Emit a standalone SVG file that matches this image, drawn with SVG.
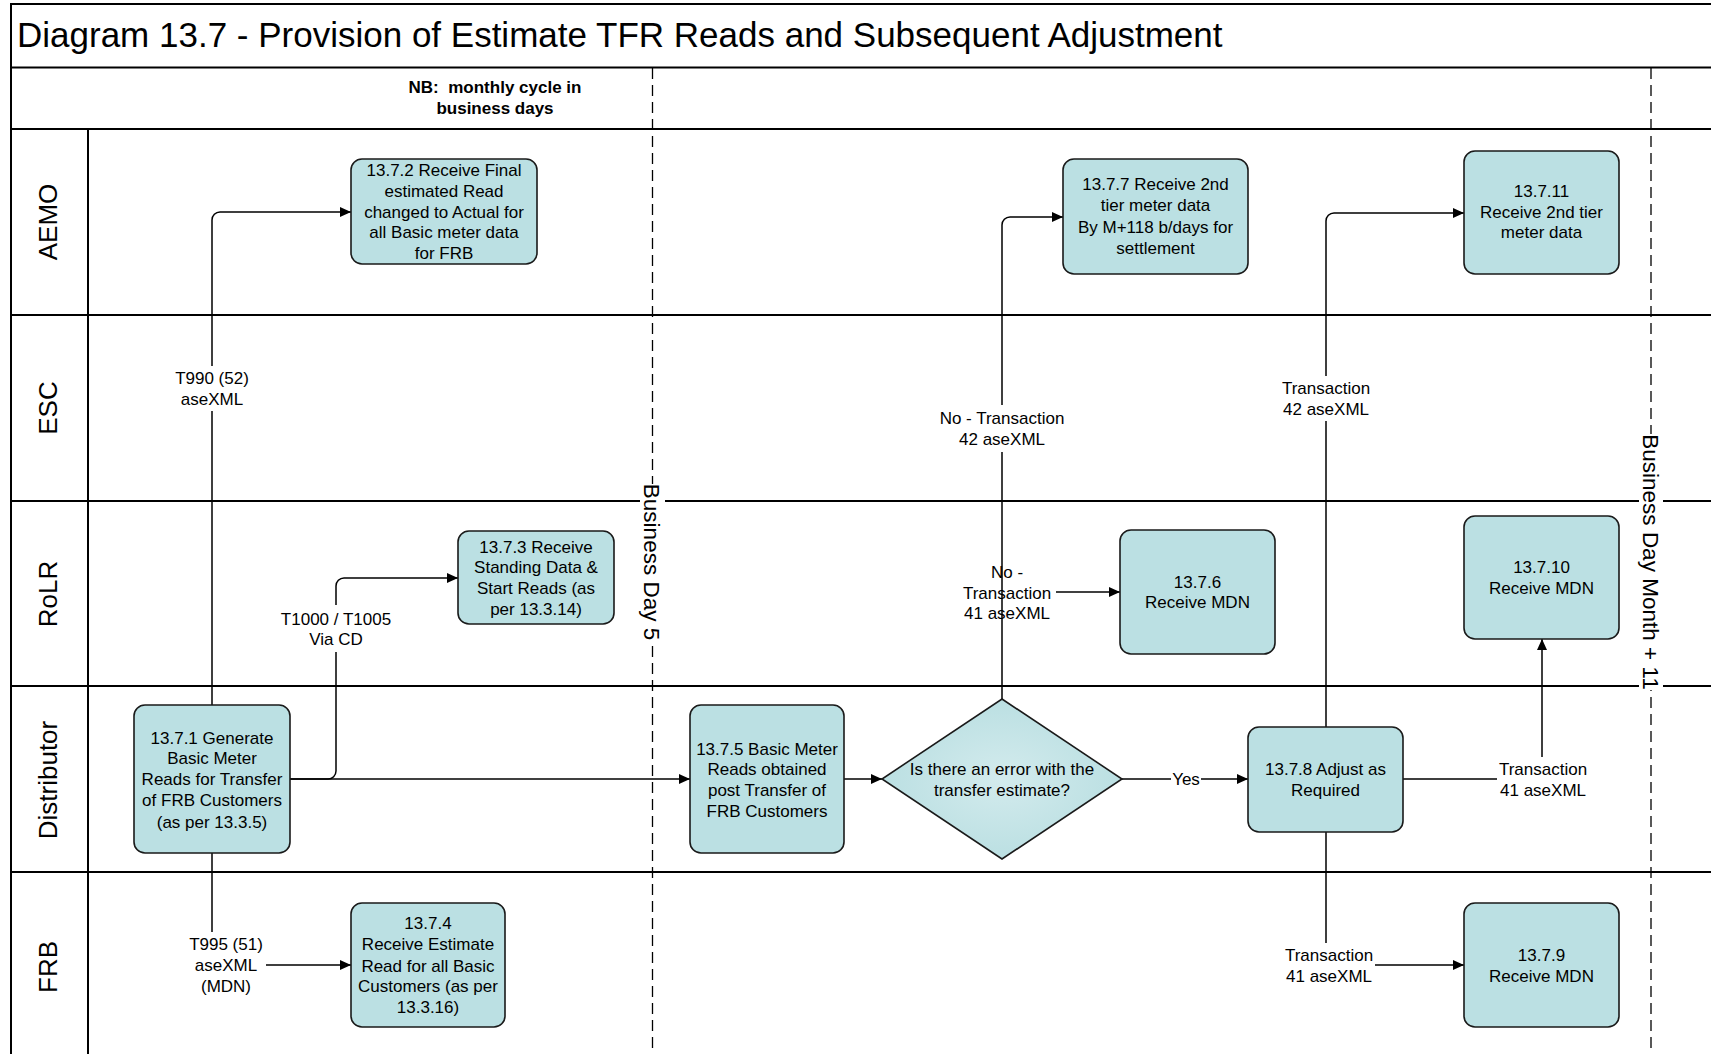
<svg xmlns="http://www.w3.org/2000/svg" width="1711" height="1054" viewBox="0 0 1711 1054">
<style>
.frame{stroke:#000;stroke-width:2;fill:none}
.dash{stroke:#000;stroke-width:1.3;stroke-dasharray:11 6;fill:none}
.node{fill:#bbe0e3;stroke:#1a1a1a;stroke-width:1.6}
.t{font-family:"Liberation Sans",Arial,sans-serif;font-size:17px;text-anchor:middle;fill:#000}
.b{font-weight:bold}
.lane{font-family:"Liberation Sans",Arial,sans-serif;font-size:26px;text-anchor:middle;fill:#000}
.bd{font-family:"Liberation Sans",Arial,sans-serif;font-size:22.5px;text-anchor:middle;fill:#000}
.title{font-family:"Liberation Sans",Arial,sans-serif;font-size:35px;fill:#000}
.conn{stroke:#000;stroke-width:1.5;fill:none}
.bg{fill:#fff}
</style>
<defs>
<marker id="arr" viewBox="0 0 11 10" refX="11" refY="5" markerWidth="11" markerHeight="10" markerUnits="userSpaceOnUse" orient="auto">
<path d="M0,0 L11,5 L0,10 z" fill="#000"/>
</marker>
<radialGradient id="dg" cx="0.5" cy="0.5" r="0.6">
<stop offset="0" stop-color="#d3ebed"/>
<stop offset="1" stop-color="#b6dde0"/>
</radialGradient>
</defs>
<rect width="1711" height="1054" fill="#fff"/>

<g id="frame">
<path class="frame" d="M11,1054 V4 H1711 M11,67.5 H1711 M11,129 H1711 M88,129 V1054 M11,315 H1711 M11,501 H1711 M11,686 H1711 M11,872 H1711"/>
<text class="title" x="17" y="47">Diagram 13.7 - Provision of Estimate TFR Reads and Subsequent Adjustment</text>
<text class="t b" x="495" y="93">NB:&#160; monthly cycle in</text>
<text class="t b" x="495" y="114">business days</text>
</g>

<g id="lanes">
<text class="lane" transform="translate(48,222) rotate(-90)" dy="0.36em">AEMO</text>
<text class="lane" transform="translate(48,408) rotate(-90)" dy="0.36em">ESC</text>
<text class="lane" transform="translate(48,594) rotate(-90)" dy="0.36em">RoLR</text>
<text class="lane" transform="translate(48,780) rotate(-90)" dy="0.36em">Distributor</text>
<text class="lane" transform="translate(48,967) rotate(-90)" dy="0.36em">FRB</text>
</g>

<g id="milestones">
<path class="dash" d="M652.5,68 V1054 M1651,68 V1054"/>
<rect class="bg" x="640" y="484" width="25" height="157"/>
<text class="bd" transform="translate(652.5,562) rotate(90)" dy="0.36em">Business Day 5</text>
<rect class="bg" x="1639" y="434" width="24" height="256"/>
<text class="bd" transform="translate(1651,562) rotate(90)" dy="0.36em">Business Day Month + 11</text>
</g>

<g id="connectors">
<path class="conn" marker-end="url(#arr)" d="M212,705 V220 A8,8 0 0 1 220,212 H351"/>
<path class="conn" marker-end="url(#arr)" d="M290,779 H690"/>
<path class="conn" marker-end="url(#arr)" d="M290,779 H328 A8,8 0 0 0 336,771 V586 A8,8 0 0 1 344,578 H458"/>
<path class="conn" marker-end="url(#arr)" d="M844,779 H882"/>
<path class="conn" marker-end="url(#arr)" d="M1002,699 V225 A8,8 0 0 1 1010,217 H1063"/>
<path class="conn" marker-end="url(#arr)" d="M1056,592 H1120"/>
<path class="conn" marker-end="url(#arr)" d="M1122,779 H1248"/>
<path class="conn" marker-end="url(#arr)" d="M1326,727 V221 A8,8 0 0 1 1334,213 H1464"/>
<path class="conn" marker-end="url(#arr)" d="M1403,779 H1534 A8,8 0 0 0 1542,771 V639"/>
<path class="conn" marker-end="url(#arr)" d="M1326,832 V957 A8,8 0 0 0 1334,965 H1464"/>
<path class="conn" marker-end="url(#arr)" d="M212,853 V957 A8,8 0 0 0 220,965 H351"/>

<rect class="bg" x="172" y="366" width="80" height="45"/>
<text class="t" x="212" y="384">T990 (52)</text>
<text class="t" x="212" y="405">aseXML</text>

<rect class="bg" x="280" y="605" width="112" height="47"/>
<text class="t" x="336" y="625">T1000 / T1005</text>
<text class="t" x="336" y="645">Via CD</text>

<rect class="bg" x="937" y="405" width="130" height="47"/>
<text class="t" x="1002" y="424">No - Transaction</text>
<text class="t" x="1002" y="445">42 aseXML</text>

<text class="t" x="1007" y="578">No -</text>
<text class="t" x="1007" y="599">Transaction</text>
<text class="t" x="1007" y="619">41 aseXML</text>

<rect class="bg" x="1171" y="769" width="30" height="20"/>
<text class="t" x="1186" y="785">Yes</text>

<rect class="bg" x="1280" y="376" width="92" height="45"/>
<text class="t" x="1326" y="394">Transaction</text>
<text class="t" x="1326" y="415">42 aseXML</text>

<rect class="bg" x="1497" y="757" width="92" height="45"/>
<text class="t" x="1543" y="775">Transaction</text>
<text class="t" x="1543" y="796">41 aseXML</text>

<rect class="bg" x="1283" y="943" width="92" height="45"/>
<text class="t" x="1329" y="961">Transaction</text>
<text class="t" x="1329" y="982">41 aseXML</text>

<rect class="bg" x="186" y="932" width="80" height="66"/>
<text class="t" x="226" y="950">T995 (51)</text>
<text class="t" x="226" y="971">aseXML</text>
<text class="t" x="226" y="992">(MDN)</text>
</g>

<g id="n1371">
<rect class="node" x="134" y="705" width="156" height="148" rx="11"/>
<text class="t" x="212" y="744">13.7.1 Generate</text>
<text class="t" x="212" y="764">Basic Meter</text>
<text class="t" x="212" y="785">Reads for Transfer</text>
<text class="t" x="212" y="806">of FRB Customers</text>
<text class="t" x="212" y="828">(as per 13.3.5)</text>
</g>
<g id="n1372">
<rect class="node" x="351" y="159" width="186" height="105" rx="11"/>
<text class="t" x="444" y="176">13.7.2 Receive Final</text>
<text class="t" x="444" y="197">estimated Read</text>
<text class="t" x="444" y="218">changed to Actual for</text>
<text class="t" x="444" y="238">all Basic meter data</text>
<text class="t" x="444" y="259">for FRB</text>
</g>
<g id="n1373">
<rect class="node" x="458" y="531" width="156" height="93" rx="11"/>
<text class="t" x="536" y="553">13.7.3 Receive</text>
<text class="t" x="536" y="573">Standing Data &amp;</text>
<text class="t" x="536" y="594">Start Reads (as</text>
<text class="t" x="536" y="615">per 13.3.14)</text>
</g>
<g id="n1374">
<rect class="node" x="351" y="903" width="154" height="124" rx="11"/>
<text class="t" x="428" y="929">13.7.4</text>
<text class="t" x="428" y="950">Receive Estimate</text>
<text class="t" x="428" y="972">Read for all Basic</text>
<text class="t" x="428" y="992">Customers (as per</text>
<text class="t" x="428" y="1013">13.3.16)</text>
</g>
<g id="n1375">
<rect class="node" x="690" y="705" width="154" height="148" rx="11"/>
<text class="t" x="767" y="755">13.7.5 Basic Meter</text>
<text class="t" x="767" y="775">Reads obtained</text>
<text class="t" x="767" y="796">post Transfer of</text>
<text class="t" x="767" y="817">FRB Customers</text>
</g>
<g id="decision">
<polygon points="1002,699 1122,779 1002,859 882,779" fill="url(#dg)" stroke="#1a1a1a" stroke-width="1.6"/>
<text class="t" x="1002" y="775">Is there an error with the</text>
<text class="t" x="1002" y="796">transfer estimate?</text>
</g>
<g id="n1376">
<rect class="node" x="1120" y="530" width="155" height="124" rx="11"/>
<text class="t" x="1197.5" y="588">13.7.6</text>
<text class="t" x="1197.5" y="608">Receive MDN</text>
</g>
<g id="n1377">
<rect class="node" x="1063" y="159" width="185" height="115" rx="11"/>
<text class="t" x="1155.5" y="190">13.7.7 Receive 2nd</text>
<text class="t" x="1155.5" y="211">tier meter data</text>
<text class="t" x="1155.5" y="233">By M+118 b/days for</text>
<text class="t" x="1155.5" y="254">settlement</text>
</g>
<g id="n1378">
<rect class="node" x="1248" y="727" width="155" height="105" rx="11"/>
<text class="t" x="1325.5" y="775">13.7.8 Adjust as</text>
<text class="t" x="1325.5" y="796">Required</text>
</g>
<g id="n1379">
<rect class="node" x="1464" y="903" width="155" height="124" rx="11"/>
<text class="t" x="1541.5" y="961">13.7.9</text>
<text class="t" x="1541.5" y="982">Receive MDN</text>
</g>
<g id="n13710">
<rect class="node" x="1464" y="516" width="155" height="123" rx="11"/>
<text class="t" x="1541.5" y="573">13.7.10</text>
<text class="t" x="1541.5" y="594">Receive MDN</text>
</g>
<g id="n13711">
<rect class="node" x="1464" y="151" width="155" height="123" rx="11"/>
<text class="t" x="1541.5" y="197">13.7.11</text>
<text class="t" x="1541.5" y="218">Receive 2nd tier</text>
<text class="t" x="1541.5" y="238">meter data</text>
</g>
</svg>
